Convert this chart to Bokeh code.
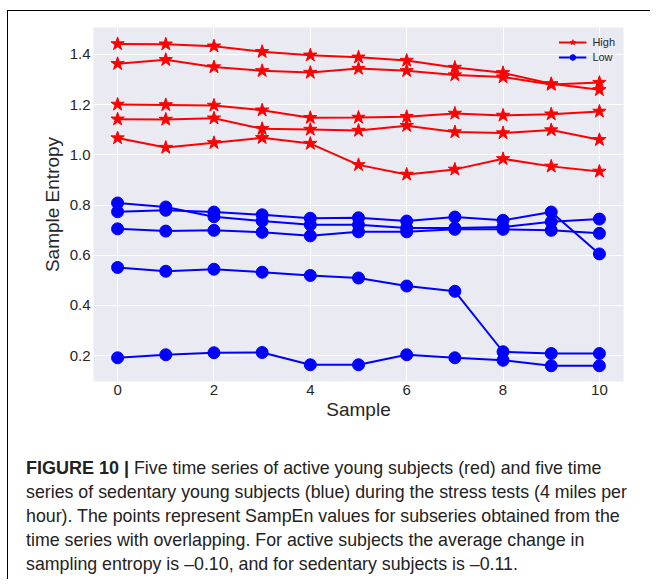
from bokeh.plotting import figure
from bokeh.layouts import column
from bokeh.models import (Legend, LegendItem, Div, FixedTicker,
                          PrintfTickFormatter)
from bokeh.embed import file_html
from bokeh.resources import INLINE

samples = list(range(11))

high_series = [
    [1.442, 1.441, 1.433, 1.411, 1.397, 1.389, 1.376, 1.348, 1.327, 1.283, 1.259],
    [1.363, 1.379, 1.350, 1.335, 1.328, 1.344, 1.335, 1.318, 1.310, 1.280, 1.288],
    [1.201, 1.199, 1.197, 1.178, 1.148, 1.149, 1.152, 1.165, 1.157, 1.162, 1.173],
    [1.142, 1.141, 1.146, 1.104, 1.101, 1.097, 1.116, 1.091, 1.087, 1.099, 1.060],
    [1.067, 1.029, 1.048, 1.068, 1.045, 0.960, 0.922, 0.942, 0.984, 0.954, 0.934],
]
low_series = [
    [0.773, 0.779, 0.772, 0.761, 0.747, 0.749, 0.736, 0.752, 0.739, 0.772, 0.605],
    [0.808, 0.792, 0.753, 0.736, 0.721, 0.721, 0.708, 0.708, 0.712, 0.733, 0.744],
    [0.705, 0.696, 0.699, 0.691, 0.677, 0.693, 0.693, 0.703, 0.703, 0.699, 0.687],
    [0.551, 0.536, 0.544, 0.532, 0.519, 0.509, 0.477, 0.456, 0.215, 0.208, 0.208],
    [0.191, 0.203, 0.211, 0.212, 0.163, 0.163, 0.203, 0.191, 0.181, 0.159, 0.159],
]
x_ticks = [0, 2, 4, 6, 8, 10]
y_ticks = [0.2, 0.4, 0.6, 0.8, 1.0, 1.2, 1.4]
legend_labels = ["High", "Low"]
x_label = "Sample"
y_label = "Sample Entropy"
caption_bold = "FIGURE 10 |"
caption_lines = [
    "Five time series of active young subjects (red) and five time",
    "series of sedentary young subjects (blue) during the stress tests (4 miles per",
    "hour). The points represent SampEn values for subseries obtained from the",
    "time series with overlapping. For active subjects the average change in",
    "sampling entropy is \u20130.10, and for sedentary subjects is \u20130.11.",
]

OX, OY = 7, 10                  # outer box offset
W, H1, H2 = 642, 430, 138
FL, FR, FT, FB = 85, 615, 16, 370   # frame edges in main canvas px
X0, X1 = -0.5, 10.5
Y0, Y1 = 0.0964, 1.5076

p = figure(width=W, height=H1, output_backend="svg", toolbar_location=None,
           x_range=(X0, X1), y_range=(Y0, Y1),
           min_border_left=FL, min_border_right=W - FR, min_border_top=FT,
           min_border_bottom=H1 - FB)
p.background_fill_color = "#EAEAF2"
p.border_fill_color = "white"
p.outline_line_color = None

for ax in (p.xaxis[0], p.yaxis[0]):
    ax.axis_line_color = None
    ax.major_tick_line_color = None
    ax.minor_tick_line_color = None
    ax.major_tick_out = 0
    ax.major_tick_in = 0
    ax.minor_tick_out = 0
    ax.minor_tick_in = 0
    ax.major_label_text_font = "Liberation Sans"
    ax.major_label_text_font_size = "15px"
    ax.major_label_text_color = "#262626"
    ax.axis_label_text_font = "Liberation Sans"
    ax.axis_label_text_font_size = "19px"
    ax.axis_label_text_font_style = "normal"
    ax.axis_label_text_color = "#262626"
    ax.major_label_standoff = 3
p.xaxis.axis_label_standoff = 1
p.yaxis.axis_label_standoff = 4

p.xaxis.ticker = FixedTicker(ticks=x_ticks)
p.yaxis.ticker = FixedTicker(ticks=y_ticks)
p.yaxis.formatter = PrintfTickFormatter(format="%.1f")
p.xaxis.axis_label = x_label
p.yaxis.axis_label = y_label
p.xgrid.ticker = FixedTicker(ticks=x_ticks)
p.ygrid.ticker = FixedTicker(ticks=y_ticks)
p.grid.grid_line_color = "white"
p.grid.grid_line_width = 1

high_r = []
for ys in high_series:
    l = p.line(samples, ys, line_color="#FF0000", line_width=2)
    s = p.scatter(samples, ys, marker="star", size=14, fill_color="#FF0000",
                  line_color="#FF0000")
    high_r.append((l, s))
low_r = []
for ys in low_series:
    l = p.line(samples, ys, line_color="#0000FF", line_width=2)
    s = p.scatter(samples, ys, marker="circle", size=12, fill_color="#0000FF",
                  line_color="#0000FF")
    low_r.append((l, s))

legend = Legend(items=[
    LegendItem(label=legend_labels[0], renderers=list(high_r[0])),
    LegendItem(label=legend_labels[1], renderers=list(low_r[0])),
], location="top_right")
legend.background_fill_alpha = 0
legend.border_line_color = None
legend.label_text_font = "Liberation Sans"
legend.label_text_font_size = "11px"
legend.label_text_color = "#262626"
legend.glyph_width = 28
legend.glyph_height = 14
legend.spacing = 1
legend.padding = 4
legend.margin = 8
legend.label_standoff = 6
p.add_layout(legend)

# caption as HTML text
html = ('<div style="font-family:\'Liberation Sans\',Arial,sans-serif;'
        'font-size:17.8px;line-height:24px;color:#222222;white-space:nowrap;'
        'padding:15px 0 0 18px;margin:0;">'
        '<span style="font-weight:bold;font-size:18px;">' + caption_bold +
        '</span> ' + "<br>".join(caption_lines) + '</div>')
cap = Div(text=html, width=W, height=H2, margin=0)

layout = column(p, cap, spacing=0, margin=(OY, 0, 0, OX),
                styles={"border-left": "1.5px solid black",
                        "border-top": "1.5px solid black"})

open("out.html", "w").write(file_html(layout, INLINE))
